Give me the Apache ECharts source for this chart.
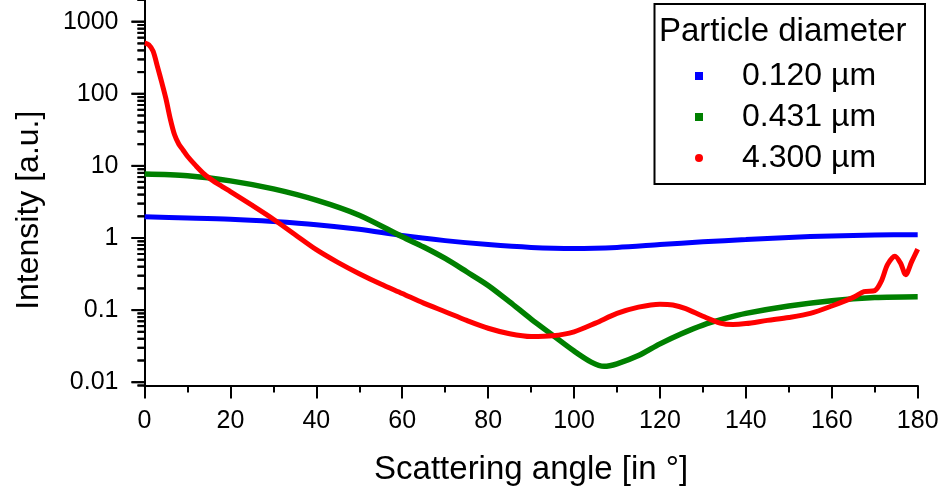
<!DOCTYPE html>
<html>
<head>
<meta charset="utf-8">
<script src="https://cdn.jsdelivr.net/npm/echarts@6/dist/echarts.min.js"></script>
<style>
  html, body { margin: 0; padding: 0; background: #fff; }
  #chart { width: 945px; height: 493px; }
</style>
</head>
<body>
<div id="chart"></div>
<script>
// Scattered intensity vs. scattering angle for three particle diameters
const seriesNames = ['0.120 \u00b5m', '0.431 \u00b5m', '4.300 \u00b5m'];

const anglesSmall = [0, 10, 20, 30, 40, 50, 60, 70, 80, 90, 100, 110, 120, 130, 140, 150, 160, 170, 180];
const intensitySmall = [1.97, 1.9, 1.82, 1.69, 1.53, 1.32, 1.08, 0.92, 0.81, 0.74, 0.715, 0.74, 0.81, 0.885, 0.95, 1.02, 1.07, 1.1, 1.11];

const anglesMedium = [0, 10, 20, 30, 40, 50, 60, 65, 70, 75, 80, 85, 90, 95, 100, 104, 107, 110, 115, 120, 125, 130, 135, 140, 150, 160, 170, 180];
const intensityMedium = [7.7, 7.3, 6.2, 4.8, 3.35, 2.07, 1.04, 0.75, 0.52, 0.34, 0.22, 0.13, 0.075, 0.045, 0.027, 0.019, 0.0166, 0.018, 0.0234, 0.034, 0.047, 0.062, 0.076, 0.09, 0.114, 0.135, 0.149, 0.153];

const anglesLarge = [0, 1, 2, 3, 4, 5, 6, 7, 8, 9, 10, 12, 14, 16, 18, 20, 25, 30, 35, 40, 45, 50, 55, 60, 65, 70, 75, 80, 85, 90, 95, 100, 105, 110, 115, 120, 123, 126, 130, 134, 137, 140, 145, 150, 155, 160, 165, 167.5, 170, 171.5, 173, 174.7, 176, 177.2, 178.6, 180];
const intensityLarge = [510, 480, 390, 240, 145, 85, 45, 27, 20, 16.5, 13.6, 10, 7.6, 6.2, 5.2, 4.4, 2.85, 1.82, 1.12, 0.69, 0.46, 0.32, 0.23, 0.17, 0.125, 0.095, 0.072, 0.056, 0.047, 0.043, 0.044, 0.05, 0.066, 0.09, 0.11, 0.121, 0.118, 0.105, 0.082, 0.066, 0.063, 0.065, 0.072, 0.079, 0.09, 0.114, 0.15, 0.18, 0.186, 0.25, 0.43, 0.56, 0.45, 0.31, 0.47, 0.7];

const yDecadeTicks = [0.01, 0.1, 1, 10, 100, 1000];
const yTickLabels = ['0.01', '0.1', '1', '10', '100', '1000'];

const Y_MIN = 0.009;
const Y_MAX = 2000;

// minor log ticks: 2..9 within each decade
const yMinorTicks = [];
[0.001, 0.01, 0.1, 1, 10, 100, 1000].forEach(function (d) {
  for (let m = 2; m <= 9; m++) {
    const v = Number((m * d).toPrecision(6));
    if (v >= Y_MIN * 0.999 && v <= Y_MAX * 1.001) yMinorTicks.push(v);
  }
});

const FONT = '"Liberation Sans", Arial, sans-serif';
const colors = ['#0000ff', '#008000', '#ff0000'];

function pairs(xs, ys) {
  return xs.map(function (x, i) { return [x, ys[i]]; });
}

function decadeLabel(v) {
  const i = yDecadeTicks.findIndex(function (t) {
    return Math.abs(Math.log10(t) - Math.log10(v)) < 1e-6;
  });
  return i >= 0 ? yTickLabels[i] : '';
}

const chart = echarts.init(document.getElementById('chart'), null, { renderer: 'canvas' });

const lineSeries = function (name, xs, ys, color, width) {
  return {
    name: name,
    type: 'line',
    data: pairs(xs, ys),
    showSymbol: false,
    symbol: 'none',
    smooth: 0.3,
    lineStyle: { color: color, width: width },
    itemStyle: { color: color },
    z: 3
  };
};

// short outward tick marks on the intensity axis, drawn as rect symbols at x = 0
const tickSeries = function (values, len) {
  return {
    type: 'scatter',
    name: 'ticks' + len,
    data: values.map(function (v) { return [0, v]; }),
    symbol: 'rect',
    symbolSize: [len, 2],
    symbolOffset: [-len / 2, 0],
    itemStyle: { color: '#000', opacity: 1 },
    clip: false,
    silent: true,
    z: 4
  };
};

// legend frame and its heading
const legendFrame = [
  {
    type: 'rect',
    shape: { x: 654.5, y: 4, width: 270.5, height: 180 },
    style: { fill: 'transparent', stroke: '#000', lineWidth: 2 },
    z: 5
  },
  {
    type: 'text',
    x: 659,
    y: 15,
    style: { text: 'Particle diameter', fontSize: 33, fontFamily: FONT, fill: '#000', verticalAlign: 'top' },
    z: 5
  }
];

chart.setOption({
  animation: false,
  backgroundColor: '#ffffff',
  textStyle: { fontFamily: FONT },
  grid: {
    left: 144.5,
    right: 27.3,
    top: -0.7,
    bottom: 107.5
  },
  xAxis: {
    type: 'value',
    min: 0,
    max: 180,
    interval: 20,
    axisLine: { show: true, onZero: false, lineStyle: { color: '#000', width: 2 } },
    axisTick: { show: true, inside: false, length: 13, lineStyle: { color: '#000', width: 2 } },
    minorTick: { show: true, splitNumber: 2, length: 7, lineStyle: { color: '#000', width: 2 } },
    splitLine: { show: false },
    minorSplitLine: { show: false },
    axisLabel: { fontSize: 25, color: '#000', fontFamily: FONT, margin: 23 },
    name: 'Scattering angle [in \u00b0]',
    nameLocation: 'middle',
    nameGap: 68,
    nameTextStyle: { fontSize: 33, color: '#000', fontFamily: FONT }
  },
  yAxis: {
    type: 'log',
    logBase: 10,
    min: Y_MIN,
    max: Y_MAX,
    axisLine: { show: true, onZero: false, lineStyle: { color: '#000', width: 2 } },
    axisTick: { show: false },
    splitLine: { show: false },
    minorSplitLine: { show: false },
    axisLabel: {
      fontSize: 25,
      color: '#000',
      fontFamily: FONT,
      margin: 26,
      formatter: decadeLabel
    },
    name: 'Intensity [a.u.]',
    nameLocation: 'middle',
    nameGap: 99,
    nameTextStyle: { fontSize: 32, color: '#000', fontFamily: FONT, padding: [0, 35, 0, 0] }
  },
  legend: {
    orient: 'vertical',
    left: 690,
    top: 53,
    itemWidth: 8,
    itemHeight: 8,
    itemGap: 5,
    selectedMode: false,
    textStyle: { fontSize: 32, color: '#000', fontFamily: FONT, lineHeight: 36, padding: [0, 0, 0, 34] },
    data: [
      { name: seriesNames[0], icon: 'rect' },
      { name: seriesNames[1], icon: 'rect' },
      { name: seriesNames[2], icon: 'circle' }
    ]
  },
  graphic: legendFrame,
  series: [
    lineSeries(seriesNames[0], anglesSmall, intensitySmall, colors[0], 5),
    lineSeries(seriesNames[1], anglesMedium, intensityMedium, colors[1], 5.5),
    lineSeries(seriesNames[2], anglesLarge, intensityLarge, colors[2], 5),
    tickSeries(yDecadeTicks, 13),
    tickSeries(yMinorTicks, 7)
  ]
});

// the same ticks as plain lines, positioned through the axis scale
function tickLine(v, len) {
  const p = chart.convertToPixel({ xAxisIndex: 0, yAxisIndex: 0 }, [0, v]);
  return {
    type: 'line',
    shape: { x1: p[0] - len, y1: p[1], x2: p[0], y2: p[1] },
    style: { stroke: '#000', lineWidth: 2 },
    silent: true,
    z: 4
  };
}

const yTickLines = yDecadeTicks.map(function (v) { return tickLine(v, 13); })
  .concat(yMinorTicks.map(function (v) { return tickLine(v, 7); }));

chart.setOption({ graphic: legendFrame.concat(yTickLines) });
</script>
</body>
</html>
